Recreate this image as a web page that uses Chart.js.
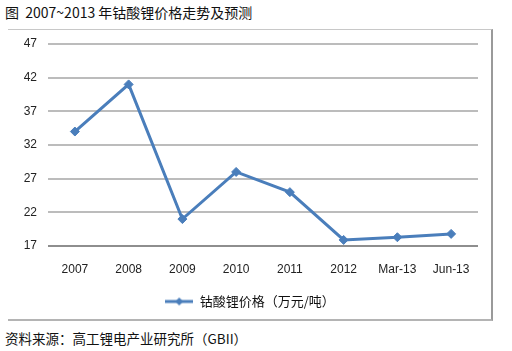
<!DOCTYPE html>
<html>
<head>
<meta charset="utf-8">
<script src="https://cdn.jsdelivr.net/npm/chart.js@4/dist/chart.umd.min.js"></script>
<style>
body { margin: 0; background: #fff; }
#wrap { position: relative; width: 512px; height: 351px; overflow: hidden; }
#frame { position: absolute; left: 8px; top: 29px; width: 483px; height: 289px;
  border-top: 1px solid #c8c8c8; border-right: 2px solid #9a9a9a; border-bottom: 2px solid #b4b4b4; }
#title { position: absolute; left: 5px; top: 2px; font: 14px "Noto Sans CJK SC", sans-serif; color: #111; white-space: pre; }
#source { position: absolute; left: 5px; top: 328px; font: 13.5px "Noto Sans CJK SC", sans-serif; color: #111; }
canvas { position: absolute; left: 0; top: 0; }
</style>
</head>
<body>
<div id="wrap">
  <div id="frame"></div>
  <div id="title">图  2007~2013 年钴酸锂价格走势及预测</div>
  <div id="source">资料来源：高工锂电产业研究所（GBII）</div>
  <canvas id="price" width="512" height="351"></canvas>
</div>
<script>
var labelYear = ["2007", "2008", "2009", "2010", "2011", "2012", "Mar-13", "Jun-13"];
var price = [34, 41, 21, 28, 25, 17.9, 18.3, 18.8];
var seriesName = "钴酸锂价格（万元/吨）";

var blue = "#4a7ebb";

// legend marker: line with a diamond
var legendIcon = document.createElement("canvas");
legendIcon.width = 28;
legendIcon.height = 10;
var ic = legendIcon.getContext("2d");
ic.strokeStyle = blue;
ic.lineWidth = 3;
ic.beginPath();
ic.moveTo(0, 5);
ic.lineTo(28, 5);
ic.stroke();
ic.fillStyle = blue;
ic.beginPath();
ic.moveTo(14, 1);
ic.lineTo(18, 5);
ic.lineTo(14, 9);
ic.lineTo(10, 5);
ic.closePath();
ic.fill();

var pricechart = document.getElementById("price");

var myChart = new Chart(pricechart, {
type: 'line',
data: {
    labels: labelYear,
    datasets: [{
        label: seriesName,
        data: price,
        borderColor: blue,
        backgroundColor: blue,
        borderWidth: 3,
        fill: false,
        tension: 0,
        pointStyle: 'rectRot',
        pointRadius: 4.5,
        pointBackgroundColor: blue,
        pointBorderColor: blue,
        pointBorderWidth: 1
    }]
},
options: {
    responsive: false,
    animation: false,
    layout: {
        padding: { left: 22, right: 34, top: 44, bottom: 33 }
    },
    scales: {
        x: {
            offset: true,
            grid: { display: false, drawTicks: false },
            border: { display: false },
            ticks: {
                padding: 16,
                color: '#222',
                font: { family: 'Liberation Sans', size: 12 },
                maxRotation: 0
            },
            afterFit: function(scale) { scale.height = 39; }
        },
        y: {
            min: 17,
            max: 47,
            grid: {
                drawTicks: false,
                lineWidth: 2,
                color: function(ctx) { return ctx.tick && ctx.tick.value === 17 ? '#8e8e8e' : '#bcbcbc'; }
            },
            border: { display: false },
            ticks: {
                stepSize: 5,
                padding: 11,
                color: '#222',
                font: { family: 'Liberation Sans', size: 12 }
            },
            afterFit: function(scale) { scale.width = 26; }
        }
    },
    plugins: {
        legend: {
            display: true,
            position: 'bottom',
            labels: {
                usePointStyle: true,
                pointStyleWidth: 28,
                padding: 10,
                color: '#111',
                font: { family: 'Noto Sans CJK SC', size: 13 },
                generateLabels: function(chart) {
                    var items = Chart.defaults.plugins.legend.labels.generateLabels(chart);
                    items.forEach(function(it) { it.pointStyle = legendIcon; });
                    return items;
                }
            }
        },
        title: { display: false },
        tooltip: { enabled: false }
    }
}
});
</script>
</body>
</html>
